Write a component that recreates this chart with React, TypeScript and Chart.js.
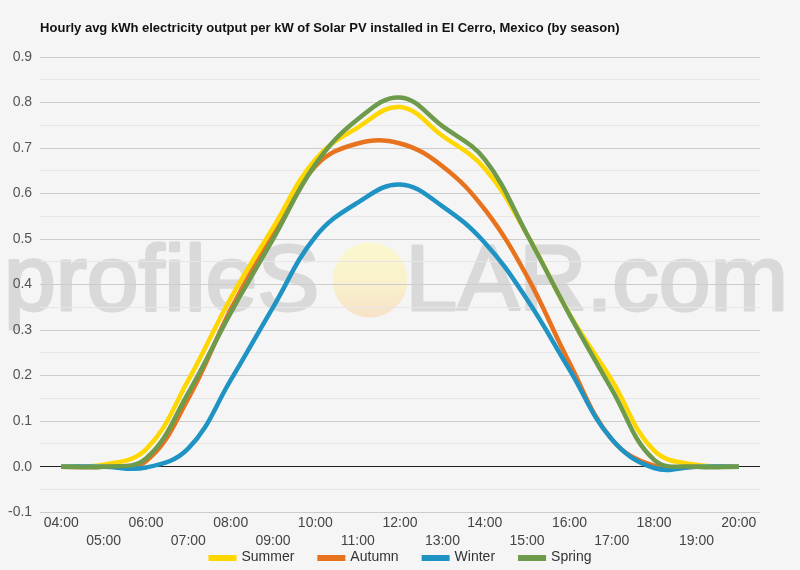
import React, { useEffect, useRef } from "react";
import { Chart, registerables } from "chart.js";

Chart.register(...registerables);

const TITLE =
  "Hourly avg kWh electricity output per kW of Solar PV installed in El Cerro, Mexico (by season)";

const hours = [
  "04:00", "05:00", "06:00", "07:00", "08:00", "09:00", "10:00", "11:00", "12:00",
  "13:00", "14:00", "15:00", "16:00", "17:00", "18:00", "19:00", "20:00",
];

const summer = [0, 0.004, 0.038, 0.19, 0.37, 0.525, 0.675, 0.745, 0.79, 0.727, 0.655, 0.51, 0.335, 0.19, 0.035, 0.004, 0];
const autumn = [0, 0, 0.012, 0.15, 0.345, 0.51, 0.66, 0.71, 0.71, 0.66, 0.565, 0.418, 0.228, 0.06, 0.002, 0, 0];
const winter = [0, 0, -0.002, 0.04, 0.19, 0.35, 0.505, 0.58, 0.62, 0.572, 0.492, 0.367, 0.213, 0.06, -0.003, 0, 0];
const spring = [0, 0, 0.018, 0.162, 0.338, 0.5, 0.664, 0.763, 0.811, 0.748, 0.675, 0.51, 0.334, 0.17, 0.015, 0, 0];

const seriesNames = ["Summer", "Autumn", "Winter", "Spring"];
const seriesColors = ["#FFD700", "#E8731F", "#1F93C3", "#6E9A4C"];

const yTicks = [
  -0.1, -0.05, 0, 0.05, 0.1, 0.15, 0.2, 0.25, 0.3, 0.35, 0.4, 0.45, 0.5,
  0.55, 0.6, 0.65, 0.7, 0.75, 0.8, 0.85, 0.9,
];

const FONT = '"Liberation Sans", Arial, Helvetica, sans-serif';

const titlePlugin = {
  id: "customTitle",
  afterDraw(chart: any) {
    const { ctx, chartArea } = chart;
    ctx.save();
    ctx.font = `bold 13px ${FONT}`;
    ctx.fillStyle = "#111";
    ctx.textAlign = "left";
    ctx.textBaseline = "middle";
    ctx.fillText(TITLE, chartArea.left, 28);
    ctx.restore();
  },
};

const legendPlugin = {
  id: "customLegend",
  afterDraw(chart: any) {
    const { ctx, width } = chart;
    ctx.save();
    ctx.font = `14px ${FONT}`;
    ctx.textBaseline = "middle";
    ctx.textAlign = "left";
    const boxW = 28, boxH = 6, gapText = 5, gapItem = 23;
    const items = chart.data.datasets.map((ds: any) => ({
      label: ds.label,
      color: ds.borderColor,
      w: boxW + gapText + ctx.measureText(ds.label).width,
    }));
    const total = items.reduce((s: number, it: any) => s + it.w, 0) + gapItem * (items.length - 1);
    let x = (width - total) / 2;
    const y = 557;
    items.forEach((it: any) => {
      ctx.fillStyle = it.color;
      ctx.fillRect(x, y - boxH / 2 + 1, boxW, boxH);
      ctx.fillStyle = "#333";
      ctx.fillText(it.label, x + boxW + gapText, y);
      x += it.w + gapItem;
    });
    ctx.restore();
  },
};

const watermarkPlugin = {
  id: "watermark",
  beforeDraw(chart: any) {
    const { ctx } = chart;
    ctx.save();
    ctx.font = `93px ${FONT}`;
    ctx.textBaseline = "alphabetic";
    ctx.fillStyle = "#d9d9d9";
    ctx.strokeStyle = "#d9d9d9";
    ctx.lineWidth = 3;
    ctx.lineJoin = "round";
    ctx.textAlign = "left";
    ctx.fillText("profileS", 4, 310);
    ctx.strokeText("profileS", 4, 310);
    ctx.textAlign = "right";
    ctx.fillText("LAR.com", 788, 310);
    ctx.strokeText("LAR.com", 788, 310);
    const cx = 370, cy = 280, r = 37.5;
    const g = ctx.createLinearGradient(0, cy - r, 0, cy + r);
    g.addColorStop(0, "rgb(250,247,205)");
    g.addColorStop(0.5, "rgb(249,242,205)");
    g.addColorStop(1, "rgb(247,226,200)");
    ctx.fillStyle = g;
    ctx.beginPath();
    ctx.arc(cx, cy, r, 0, Math.PI * 2);
    ctx.fill();
    ctx.restore();
  },
};

export default function App() {
  const ref = useRef<HTMLCanvasElement | null>(null);

  useEffect(() => {
    if (!ref.current) return;
    const data = [summer, autumn, winter, spring];
    const orders = [2, 3, 1, 0];
    const chart = new Chart(ref.current, {
      type: "line",
      data: {
        labels: hours,
        datasets: data.map((d, i) => ({
          label: seriesNames[i],
          data: d,
          borderColor: seriesColors[i],
          backgroundColor: seriesColors[i],
          borderWidth: 4.5,
          pointRadius: 0,
          pointHoverRadius: 0,
          tension: 0.4,
          fill: false,
          order: orders[i],
        })),
      },
      options: {
        responsive: false,
        animation: false,
        devicePixelRatio: 1,
        layout: { padding: { top: 57, left: 0, right: 40, bottom: 18 } },
        plugins: {
          title: { display: false },
          tooltip: { enabled: false },
          legend: { display: false },
        },
        scales: {
          x: {
            offset: true,
            grid: { display: false, drawTicks: false },
            border: { display: false },
            ticks: {
              autoSkip: false,
              maxRotation: 0,
              minRotation: 0,
              padding: 2,
              color: "#444",
              font: { size: 14, family: FONT, lineHeight: 1.28 },
              callback: (_v: any, idx: number) =>
                idx % 2 === 0 ? hours[idx] : ["", hours[idx]],
            },
          },
          y: {
            min: -0.1,
            max: 0.9,
            afterBuildTicks: (scale: any) => {
              scale.ticks = yTicks.map((v) => ({ value: v }));
            },
            border: { display: false },
            grid: {
              drawTicks: false,
              lineWidth: 1,
              color: (c: any) => {
                const v = c.tick ? c.tick.value : 1;
                if (Math.abs(v) < 1e-9) return "#222";
                const m = Math.round(v * 100);
                return m % 10 === 0 ? "#cccccc" : "#e6e6e6";
              },
            },
            ticks: {
              autoSkip: false,
              padding: 8,
              color: "#555",
              font: { size: 14, family: FONT },
              callback: (v: any) => {
                const m = Math.round(Number(v) * 100);
                return m % 10 === 0 ? Number(v).toFixed(1) : "";
              },
            },
          },
        },
      },
      plugins: [watermarkPlugin, titlePlugin, legendPlugin],
    });
    return () => chart.destroy();
  }, []);

  return (
    <div
      style={{
        position: "fixed",
        left: 0,
        top: 0,
        width: 800,
        height: 570,
        background: "#f5f5f5",
      }}
    >
      <canvas ref={ref} width={800} height={570} />
    </div>
  );
}
